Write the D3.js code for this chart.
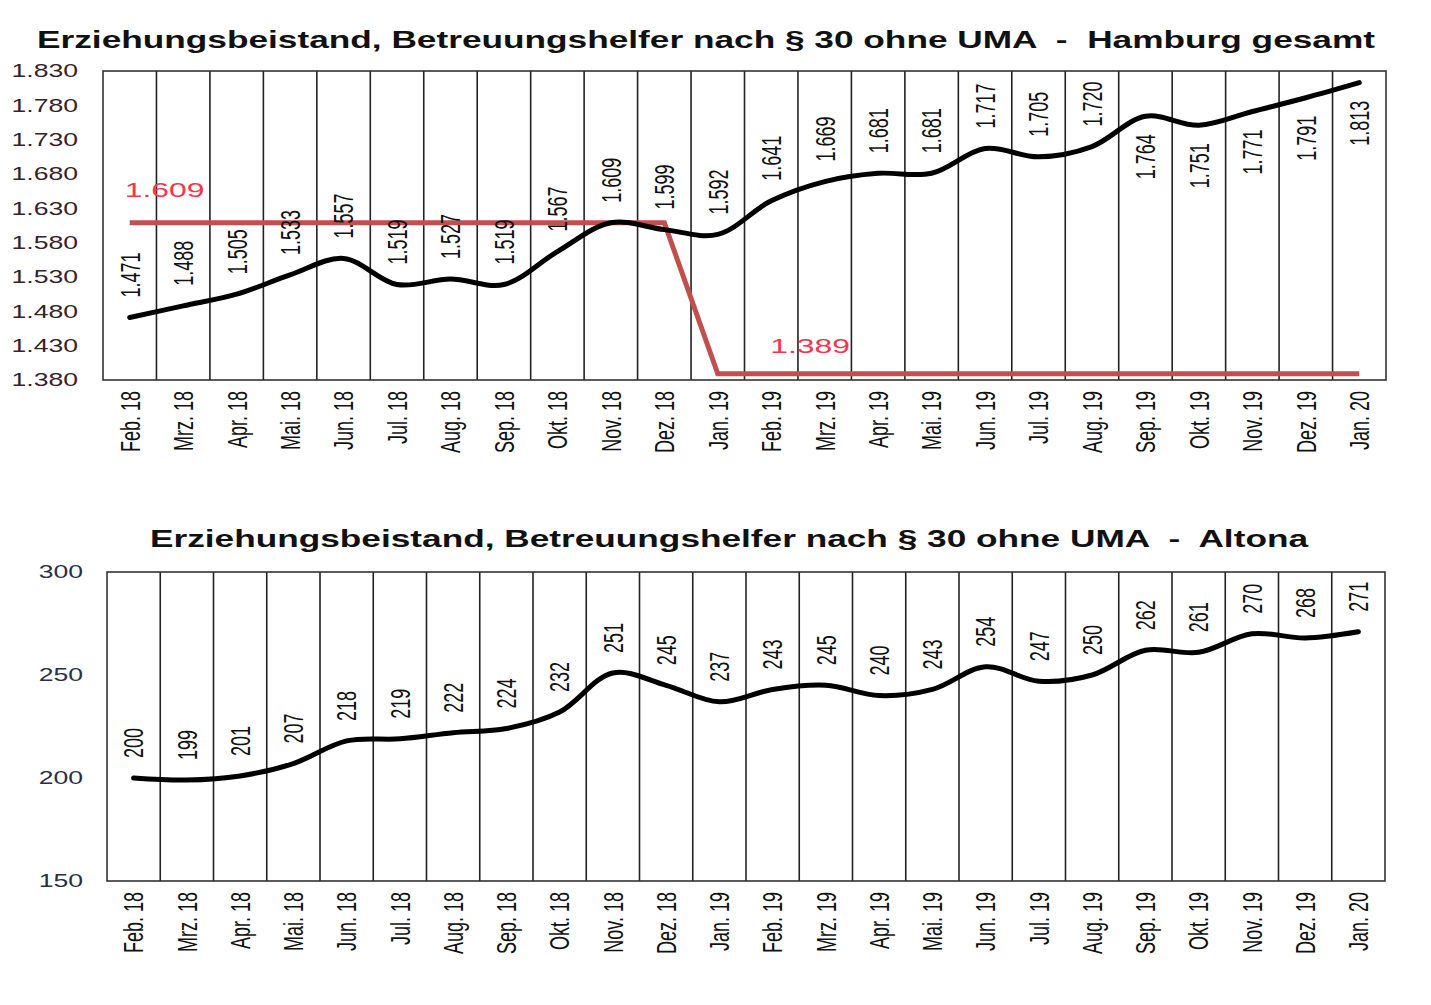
<!DOCTYPE html>
<html>
<head>
<meta charset="utf-8">
<script src="https://cdn.jsdelivr.net/npm/d3@7"></script>
<style>
  body { margin: 0; background: #fff; }
  text { font-family: "Liberation Sans", Arial, sans-serif; }
</style>
</head>
<body>
<div id="plot"></div>
<script>
// months along the x axis
var months = ["Feb. 18", "Mrz. 18", "Apr. 18", "Mai. 18", "Jun. 18", "Jul. 18",
              "Aug. 18", "Sep. 18", "Okt. 18", "Nov. 18", "Dez. 18", "Jan. 19",
              "Feb. 19", "Mrz. 19", "Apr. 19", "Mai. 19", "Jun. 19", "Jul. 19",
              "Aug. 19", "Sep. 19", "Okt. 19", "Nov. 19", "Dez. 19", "Jan. 20"];

var hamburg = [1471, 1488, 1505, 1533, 1557, 1519, 1527, 1519, 1567, 1609, 1599, 1592,
               1641, 1669, 1681, 1681, 1717, 1705, 1720, 1764, 1751, 1771, 1791, 1813];

// red reference line (Hamburg)
var hamburgRef = [1609, 1609, 1609, 1609, 1609, 1609, 1609, 1609, 1609, 1609, 1609,
                  1389, 1389, 1389, 1389, 1389, 1389, 1389, 1389, 1389, 1389, 1389, 1389, 1389];

var altona = [200, 199, 201, 207, 218, 219, 222, 224, 232, 251, 245, 237,
              243, 245, 240, 243, 254, 247, 250, 262, 261, 270, 268, 271];

var hamburgTicks = [1380, 1430, 1480, 1530, 1580, 1630, 1680, 1730, 1780, 1830];
var altonaTicks = [150, 200, 250, 300];

var titleHamburg = "Erziehungsbeistand, Betreuungshelfer nach § 30 ohne UMA  -  Hamburg gesamt";
var titleAltona = "Erziehungsbeistand, Betreuungshelfer nach § 30 ohne UMA  -  Altona";

// the source picture is stretched sideways, so text is too
var sx = 1.52;
var fmt = d3.formatLocale({decimal: ",", thousands: ".", grouping: [3], currency: ["", ""]}).format(",d");

var svg = d3.select("#plot").append("svg")
    .attr("width", 1431)
    .attr("height", 1005);

function drawChart(o) {
  var x = d3.scaleBand().domain(months).range([o.left, o.right]).padding(0);
  var y = d3.scaleLinear().domain(o.domain).range([o.bottom, o.top]);
  var cx = function(i) { return x(months[i]) + x.bandwidth() / 2; };
  var g = svg.append("g");

  g.append("text")
      .attr("x", o.titleX)
      .attr("y", o.titleY)
      .attr("textLength", o.titleW)
      .attr("lengthAdjust", "spacingAndGlyphs")
      .attr("xml:space", "preserve")
      .style("white-space", "pre")
      .style("font-size", "23px")
      .style("font-weight", "bold")
      .style("fill", "#111")
      .text(o.title);

  // column separators
  g.selectAll("line.sep")
    .data(months.slice(1))
    .enter().append("line")
      .attr("x1", function(d) { return x(d); })
      .attr("x2", function(d) { return x(d); })
      .attr("y1", o.top)
      .attr("y2", o.bottom)
      .style("stroke", "#222")
      .style("stroke-width", 1.6);

  g.append("rect")
      .attr("x", o.left)
      .attr("y", o.top)
      .attr("width", o.right - o.left)
      .attr("height", o.bottom - o.top)
      .style("fill", "none")
      .style("stroke", "#333")
      .style("stroke-width", 1.6);

  // y tick labels
  g.selectAll("text.ytick")
    .data(o.ticks)
    .enter().append("text")
      .attr("transform", function(d) { return "translate(" + o.tickX + "," + y(d) + ") scale(" + sx + ",1)"; })
      .attr("dy", "0.36em")
      .attr("text-anchor", "end")
      .style("font-size", "17.5px")
      .style("fill", o.tickColor)
      .text(function(d) { return fmt(d); });

  // x labels
  g.selectAll("text.xlab")
    .data(months)
    .enter().append("text")
      .attr("transform", function(d, i) { return "translate(" + cx(i) + "," + (o.bottom + 11) + ") rotate(-90) scale(1," + sx + ")"; })
      .attr("dy", "0.36em")
      .attr("text-anchor", "end")
      .style("font-size", "18px")
      .style("fill", "#111")
      .text(function(d) { return d; });

  if (o.ref) {
    var refLine = d3.line()
        .x(function(d, i) { return cx(i); })
        .y(function(d) { return y(d); });
    g.append("path")
        .datum(o.ref)
        .attr("d", refLine)
        .style("fill", "none")
        .style("stroke", "#c0504d")
        .style("stroke-width", 5);
    o.refLabels.forEach(function(r) {
      g.append("text")
          .attr("transform", "translate(" + (cx(r.i) + r.dx) + "," + (y(o.ref[r.i]) - r.dy) + ") scale(" + sx + ",1)")
          .style("font-size", "21px")
          .style("fill", "#f5344e")
          .text(fmt(o.ref[r.i]));
    });
  }

  var line = d3.line()
      .curve(d3.curveCatmullRom.alpha(0.5))
      .x(function(d, i) { return cx(i); })
      .y(function(d) { return y(d); });
  g.append("path")
      .datum(o.values)
      .attr("d", line)
      .style("fill", "none")
      .style("stroke", "#000")
      .style("stroke-width", 5)
      .style("stroke-linecap", "round");

  // value labels, above the point unless there is no room
  g.selectAll("text.val")
    .data(o.values)
    .enter().append("text")
      .style("font-size", "18px")
      .style("fill", "#111")
      .attr("dy", "0.36em")
      .text(function(d) { return fmt(d); })
      .each(function(d, i) {
        var len = this.getComputedTextLength();
        var py = y(d), start = py - 20;
        if (start - len < o.top + 4) start = py + 18 + len;
        d3.select(this).attr("transform", "translate(" + cx(i) + "," + start + ") rotate(-90) scale(1," + sx + ")");
      });
}

drawChart({
  title: titleHamburg, titleX: 37, titleY: 48, titleW: 1338,
  left: 103, right: 1386, top: 71, bottom: 380,
  domain: [1380, 1830], ticks: hamburgTicks, tickX: 78, tickColor: "#352329",
  values: hamburg, ref: hamburgRef,
  refLabels: [{i: 0, dx: -5, dy: 26}, {i: 12, dx: -1, dy: 21}]
});

drawChart({
  title: titleAltona, titleX: 150, titleY: 547, titleW: 1158,
  left: 107, right: 1385, top: 572, bottom: 881,
  domain: [150, 300], ticks: altonaTicks, tickX: 83, tickColor: "#2a3042",
  values: altona
});
</script>
</body>
</html>
